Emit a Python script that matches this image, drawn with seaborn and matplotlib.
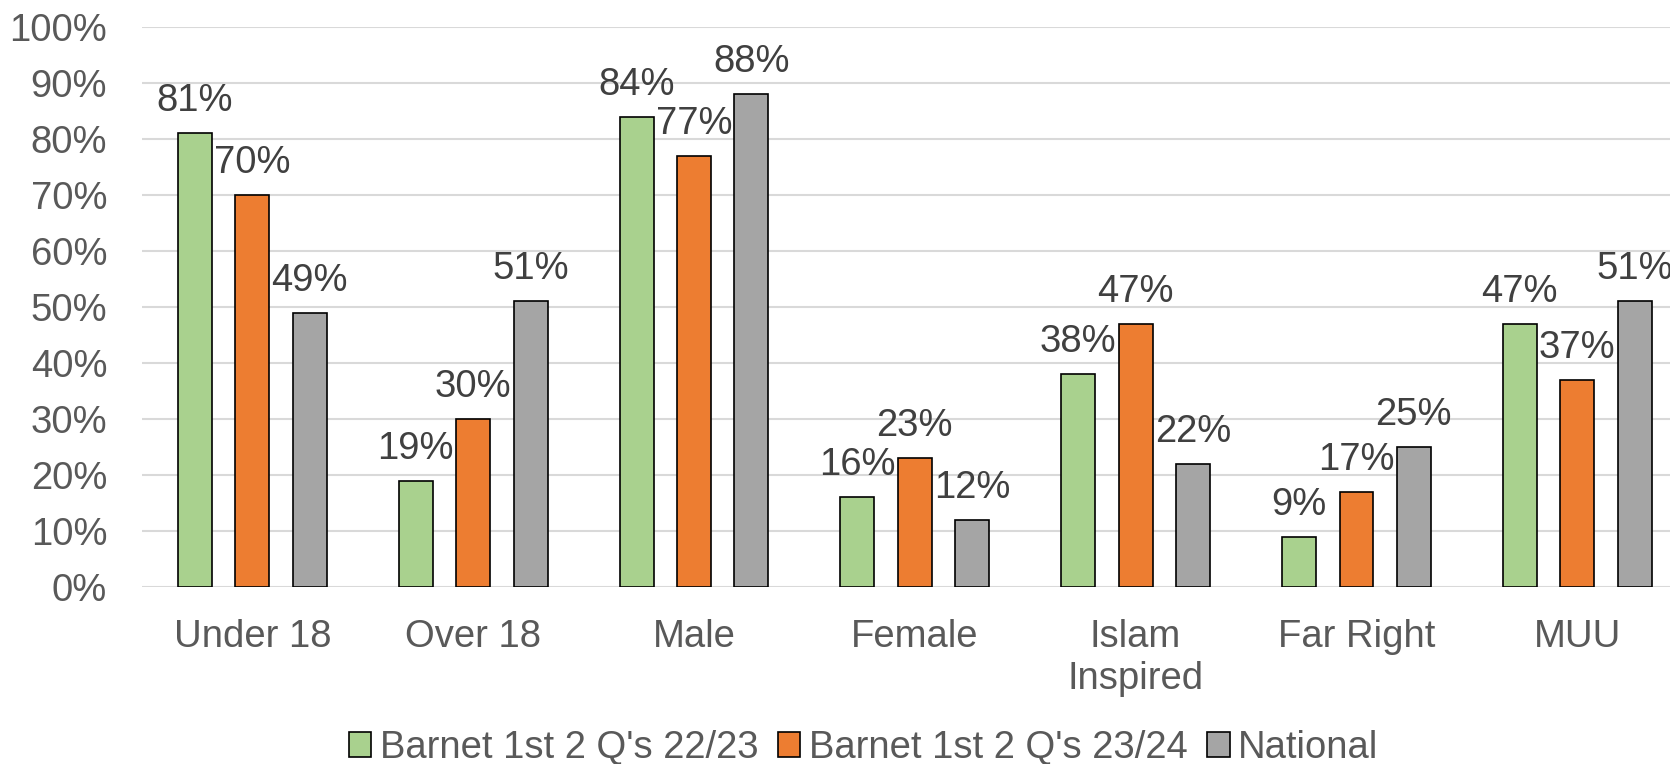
import pandas as pd
import seaborn as sns
import matplotlib.pyplot as plt
from matplotlib.ticker import FuncFormatter

categories = ["Under 18", "Over 18", "Male", "Female", "Islam\nInspired", "Far Right", "MUU"]
barnet_2223 = [81, 19, 84, 16, 38, 9, 47]
barnet_2324 = [70, 30, 77, 23, 47, 17, 37]
national = [49, 51, 88, 12, 22, 25, 51]
series_names = ["Barnet 1st 2 Q's 22/23", "Barnet 1st 2 Q's 23/24", "National"]
colors = ["#A9D18E", "#ED7D31", "#A5A5A5"]

rows = []
for name, vals in zip(series_names, [barnet_2223, barnet_2324, national]):
    for cat, v in zip(categories, vals):
        rows.append({"group": cat, "series": name, "pct": v})
df = pd.DataFrame(rows)

sns.set_theme(style="white")
plt.rcParams["font.family"] = ["Liberation Sans", "DejaVu Sans"]
fs = 27.5

fig, ax = plt.subplots(figsize=(16.7, 7.64), dpi=100)
fig.subplots_adjust(left=0.085, right=1.0, bottom=0.2317, top=0.9647)

sns.barplot(data=df, x="group", y="pct", hue="series", hue_order=series_names,
            palette=colors, width=0.78, gap=0.41, edgecolor="black",
            linewidth=1.2, saturation=1, ax=ax, zorder=3)

for cont in ax.containers:
    ax.bar_label(cont, fmt="%d%%", padding=10, fontsize=fs, color="#404040")

ax.set_ylim(0, 100)
ax.set_xlim(-0.5, 6.42)
ax.set_yticks(range(0, 101, 10))
ax.yaxis.set_major_formatter(FuncFormatter(lambda v, p: f"{int(v)}%"))
ax.grid(axis="y", color="#D9D9D9", linewidth=1.5, zorder=0)
ax.grid(axis="x", visible=False)
for s in ax.spines.values():
    s.set_visible(False)
ax.tick_params(axis="y", length=0, pad=25, labelsize=fs, labelcolor="#595959")
ax.tick_params(axis="x", length=0, pad=23, labelsize=fs, labelcolor="#595959")
ax.set_xlabel("")
ax.set_ylabel("")

handles, labels = ax.get_legend_handles_labels()
ax.get_legend().remove()
fig.legend(handles, labels, loc="center", bbox_to_anchor=(0.517, 0.021), ncol=3,
           frameon=False, fontsize=fs, labelcolor="#595959",
           handlelength=0.6, handleheight=0.6, handletextpad=0.22,
           columnspacing=0.5, borderpad=0)

fig.savefig("out.png", dpi=100)
